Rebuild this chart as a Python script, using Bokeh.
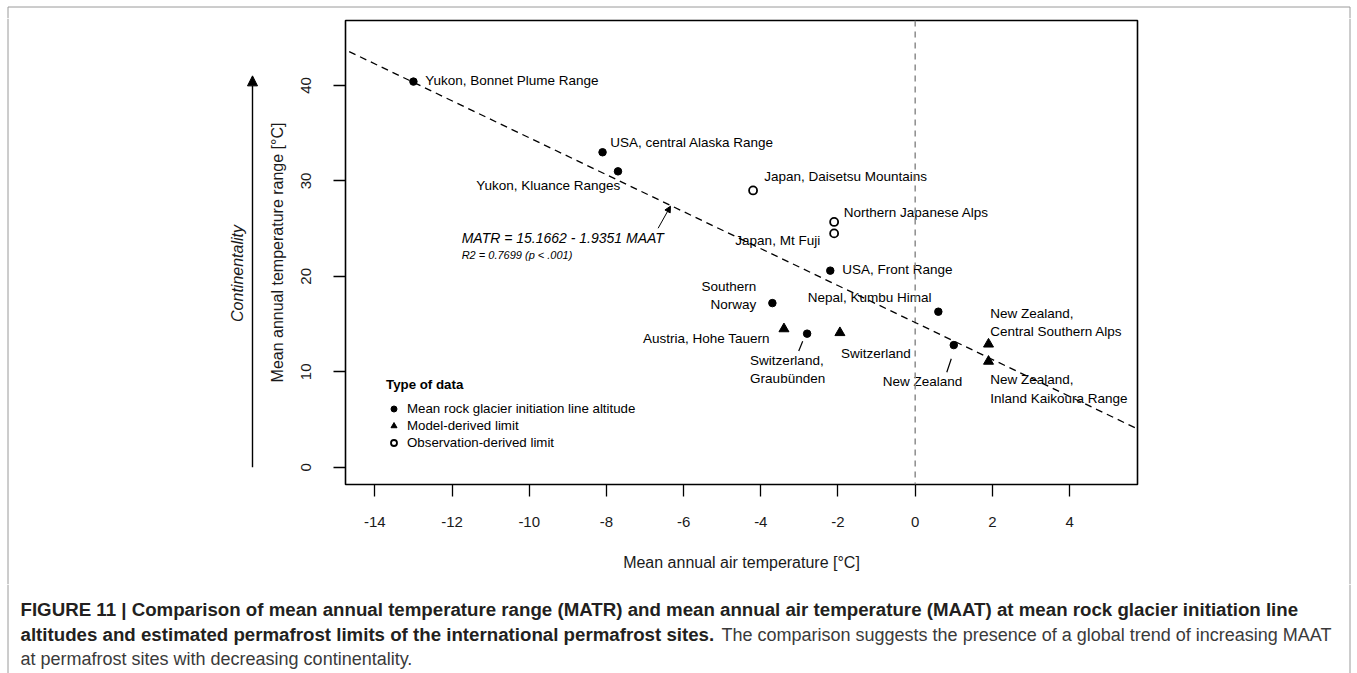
import math
from bokeh.plotting import figure
from bokeh.layouts import column, row
from bokeh.models import (Label, Arrow, NormalHead, Slope, Span, Legend, LegendItem,
                          FixedTicker, ColumnDataSource, Range1d)
from bokeh.core.properties import value
from bokeh.embed import file_html
from bokeh.resources import INLINE

# ---------------- data ----------------
site_names = [
    "Yukon, Bonnet Plume Range", "USA, central Alaska Range", "Yukon, Kluance Ranges",
    "Japan, Daisetsu Mountains", "Northern Japanese Alps", "Japan, Mt Fuji",
    "USA, Front Range", "Southern\nNorway", "Nepal, Kumbu Himal", "Austria, Hohe Tauern",
    "Switzerland,\nGraubünden", "Switzerland", "New Zealand",
    "New Zealand,\nCentral Southern Alps", "New Zealand,\nInland Kaikoura Range",
]
maat = [-13.0, -8.1, -7.7, -4.2, -2.1, -2.1, -2.2, -3.7, 0.6, -3.4, -2.8, -1.95, 1.0, 1.9, 1.9]
matr = [40.4, 33.0, 31.0, 29.0, 25.7, 24.5, 20.6, 17.2, 16.3, 14.5, 14.0, 14.1, 12.8, 12.9, 11.1]
data_type = ["rgil", "rgil", "rgil", "obs", "obs", "obs", "rgil", "rgil", "rgil",
             "model", "rgil", "model", "rgil", "model", "model"]
type_labels = {"rgil": "Mean rock glacier initiation line altitude",
               "model": "Model-derived limit",
               "obs": "Observation-derived limit"}
intercept = 15.1662
slope = -1.9351
r2 = 0.7699
x_ticks = [-14, -12, -10, -8, -6, -4, -2, 0, 2, 4]
y_ticks = [0, 10, 20, 30, 40]
continentality_span = [0, 41]

caption_lines = [
    [("FIGURE 11 | Comparison of mean annual temperature range (MATR) and mean annual air "
      "temperature (MAAT) at mean rock glacier initiation line", "bold")],
    [("altitudes and estimated permafrost limits of the international permafrost sites.", "bold"),
     ("The comparison suggests the presence of a global trend of increasing MAAT", "normal")],
    [("at permafrost sites with decreasing continentality.", "normal")],
]

# ---------------- layout / style ----------------
FONT = "Liberation Sans"
W, H = 1357, 673
TOP_H = 18
ROW_B = 584
LEFT_W = 262
RIGHT_X = 1140
FL, FR, FT, FB = 345, 1137, 20, 484
X0, X1, Y0, Y1 = -14.76, 5.76, -1.8, 46.8
PX = (FR - FL) / (X1 - X0)
PY = (FB - FT) / (Y1 - Y0)
BORDER_L, BORDER_R, BORDER_T = 7.5, 1349.5, 6.5
BORDER_COL = "#9a9a9a"


def dy(py):  # canvas pixel -> data y
    return Y0 + (FB - py) / PY


def helper(width, height, xr, yr):
    f = figure(width=width, height=height, output_backend="svg", toolbar_location=None,
               x_range=xr, y_range=yr, x_axis_location=None, y_axis_location=None,
               min_border=0, min_border_left=0, min_border_right=0,
               min_border_top=0, min_border_bottom=0,
               frame_width=width, frame_height=height)
    try:
        f.frame_align = False
    except Exception:
        pass
    f.grid.visible = False
    f.outline_line_color = None
    f.background_fill_color = "white"
    f.border_fill_color = "white"
    return f


label_layout = [
    (11.7, -1, "left"), (7.6, -9.7, "left"), (2.3, 14, "right"), (11.2, -14, "left"),
    (9.7, -9, "left"), (-14, 6.7, "right"), (12, -1, "left"), (-16, -7.7, "right"),
    (-6.8, -13.7, "right"), (-14.1, 9.8, "right"), (-57, 35.7, "left"), (1, 20.7, "left"),
    (-71, 36, "left"), (1.7, -22, "left"), (1.7, 27.6, "left"),
]
leaders = [(10, (-4.4, 7.7), (-8.4, 17.4)), (12, (-2.5, 13.7), (-7.0, 27.2))]

# ---------------- main plot ----------------
p = figure(width=RIGHT_X - LEFT_W, height=ROW_B - TOP_H, output_backend="svg",
           toolbar_location=None, x_range=Range1d(X0, X1), y_range=Range1d(Y0, Y1),
           min_border_left=FL - LEFT_W, min_border_right=RIGHT_X - FR,
           min_border_top=FT - TOP_H, min_border_bottom=ROW_B - FB)
try:
    p.frame_align = False
except Exception:
    pass
p.grid.visible = False
p.outline_line_color = "black"
p.outline_line_width = 1.6
p.background_fill_color = "white"
p.border_fill_color = "white"

for ax, ticks in ((p.xaxis[0], x_ticks), (p.yaxis[0], y_ticks)):
    ax.ticker = FixedTicker(ticks=ticks)
    ax.major_label_overrides = {t: str(t) for t in ticks}
    ax.axis_line_color = None
    ax.major_tick_line_color = "black"
    ax.major_tick_line_width = 1.3
    ax.major_tick_in = 0
    ax.major_tick_out = 12
    ax.minor_tick_line_color = None
    ax.major_label_text_font = FONT
    ax.major_label_text_font_size = "15px"
    ax.major_label_text_color = "#1a1a1a"
    ax.axis_label_text_font = FONT
    ax.axis_label_text_font_size = "16px"
    ax.axis_label_text_font_style = "normal"
    ax.axis_label_text_color = "#1a1a1a"

p.xaxis.axis_label = "Mean annual air temperature [°C]"
p.xaxis.major_label_standoff = 20
p.xaxis.axis_label_standoff = 24
p.yaxis.axis_label = "Mean annual temperature range [°C]"
p.yaxis.major_label_orientation = "vertical"
p.yaxis.major_label_standoff = 22
p.yaxis.axis_label_standoff = 13

p.add_layout(Span(location=0, dimension="height", line_color="#8c8c8c",
                  line_width=1.5, line_dash="6 5"))
p.add_layout(Slope(gradient=slope, y_intercept=intercept, line_color="black",
                   line_width=1.3, line_dash="7 5"))

renderers = {}
styles = {
    "rgil": dict(marker="circle", size=7.5, fill_color="black", line_color="black", line_width=1),
    "model": dict(marker="triangle", size=10, fill_color="black", line_color="black", line_width=1),
    "obs": dict(marker="circle", size=8, fill_color="white", line_color="black", line_width=1.8),
}
for t in ("rgil", "model", "obs"):
    idx = [i for i, d in enumerate(data_type) if d == t]
    src = ColumnDataSource(dict(x=[maat[i] for i in idx], y=[matr[i] for i in idx]))
    renderers[t] = p.scatter("x", "y", source=src, **styles[t])

for align in ("left", "right"):
    idx = [i for i, l in enumerate(label_layout) if l[2] == align]
    src = ColumnDataSource(dict(
        x=[maat[i] for i in idx], y=[matr[i] for i in idx],
        t=[site_names[i] for i in idx],
        dx=[label_layout[i][0] for i in idx], dy=[label_layout[i][1] for i in idx]))
    p.text("x", "y", text="t", source=src, x_offset="dx", y_offset="dy",
           text_align=align, text_baseline="middle", text_font=value(FONT),
           text_font_size="13.5px", text_color="black", text_line_height=1.22)

seg = dict(x0=[], y0=[], x1=[], y1=[])
for i, a, b in leaders:
    seg["x0"].append(maat[i] + a[0] / PX); seg["y0"].append(matr[i] - a[1] / PY)
    seg["x1"].append(maat[i] + b[0] / PX); seg["y1"].append(matr[i] - b[1] / PY)
p.segment("x0", "y0", "x1", "y1", source=ColumnDataSource(seg), line_color="black", line_width=1.2)

p.add_layout(Label(x=-11.75, y=24.0, text=f"MATR = {intercept:.4f} - {abs(slope):.4f} MAAT",
                   text_font=FONT, text_font_size="14px", text_font_style="italic",
                   text_baseline="middle", text_color="black"))
p.add_layout(Label(x=-11.75, y=22.2, text=f"R2 = {r2:.4f}  (p < .001)",
                   text_font=FONT, text_font_size="11px", text_font_style="italic",
                   text_baseline="middle", text_color="black"))
p.add_layout(Arrow(x_start=-6.66, y_start=25.04, x_end=-6.34, y_end=27.35,
                   line_width=1, end=NormalHead(size=6, fill_color="black", line_color="black")))

legend = Legend(items=[LegendItem(label=type_labels[t], renderers=[renderers[t]])
                       for t in ("rgil", "model", "obs")],
                title="Type of data", location=(41, 33))
legend.title_text_font = FONT
legend.title_text_font_style = "bold"
legend.title_text_font_size = "13.3px"
legend.title_text_color = "black"
legend.label_text_font = FONT
legend.label_text_font_size = "13.3px"
legend.label_text_color = "black"
legend.border_line_color = None
legend.background_fill_alpha = 0
legend.padding = 0
legend.margin = 0
legend.glyph_width = 15
legend.glyph_height = 17
legend.label_height = 17
legend.spacing = 0
legend.label_standoff = 6
legend.title_standoff = 8
p.add_layout(legend)

# ---------------- helper figures (outside the plot box) ----------------
top = helper(W, TOP_H, Range1d(0, W), Range1d(TOP_H, 0))
top.segment(x0=[BORDER_L, BORDER_L, BORDER_R], y0=[BORDER_T] * 3,
            x1=[BORDER_R, BORDER_L, BORDER_R], y1=[BORDER_T, TOP_H, TOP_H],
            line_color=BORDER_COL, line_width=1)

left = helper(LEFT_W, ROW_B - TOP_H, Range1d(0, LEFT_W), Range1d(dy(ROW_B), dy(TOP_H)))
left.segment(x0=[BORDER_L], y0=[dy(TOP_H)], x1=[BORDER_L], y1=[dy(ROW_B)],
             line_color=BORDER_COL, line_width=1)
left.add_layout(Arrow(x_start=252, y_start=continentality_span[0], x_end=252,
                      y_end=continentality_span[1], line_width=1.4, line_color="black",
                      end=NormalHead(size=10, fill_color="black", line_color="black")))
left.add_layout(Label(x=237, y=dy(273), text="Continentality", angle=math.pi / 2,
                      text_align="center", text_baseline="middle", text_font=FONT,
                      text_font_size="16px", text_font_style="italic", text_color="#1a1a1a"))

right = helper(W - RIGHT_X, ROW_B - TOP_H, Range1d(RIGHT_X, W), Range1d(ROW_B, TOP_H))
right.segment(x0=[BORDER_R], y0=[TOP_H], x1=[BORDER_R], y1=[ROW_B],
              line_color=BORDER_COL, line_width=1)

cap = helper(W, H - ROW_B, Range1d(0, W), Range1d(H, ROW_B))
cap.segment(x0=[BORDER_L, BORDER_R], y0=[ROW_B, ROW_B], x1=[BORDER_L, BORDER_R], y1=[H, H],
            line_color=BORDER_COL, line_width=1)
cap_pos = [[(20, 609)], [(20, 634), (721, 634)], [(20, 658)]]
cap_size = {"bold": "18.7px", "normal": "18px"}
cap_color = {"bold": "#231f20", "normal": "#3a3a3a"}
for parts, poss in zip(caption_lines, cap_pos):
    for (txt, st), (cx, cy) in zip(parts, poss):
        cap.text(x=[cx], y=[cy], text=[txt], text_font=value(FONT), text_font_style=st,
                 text_font_size=cap_size[st], text_baseline="middle", text_color=cap_color[st])

layout = column(top, row(left, p, right, spacing=0), cap, spacing=0)
open("out.html", "w").write(file_html(layout, INLINE))
